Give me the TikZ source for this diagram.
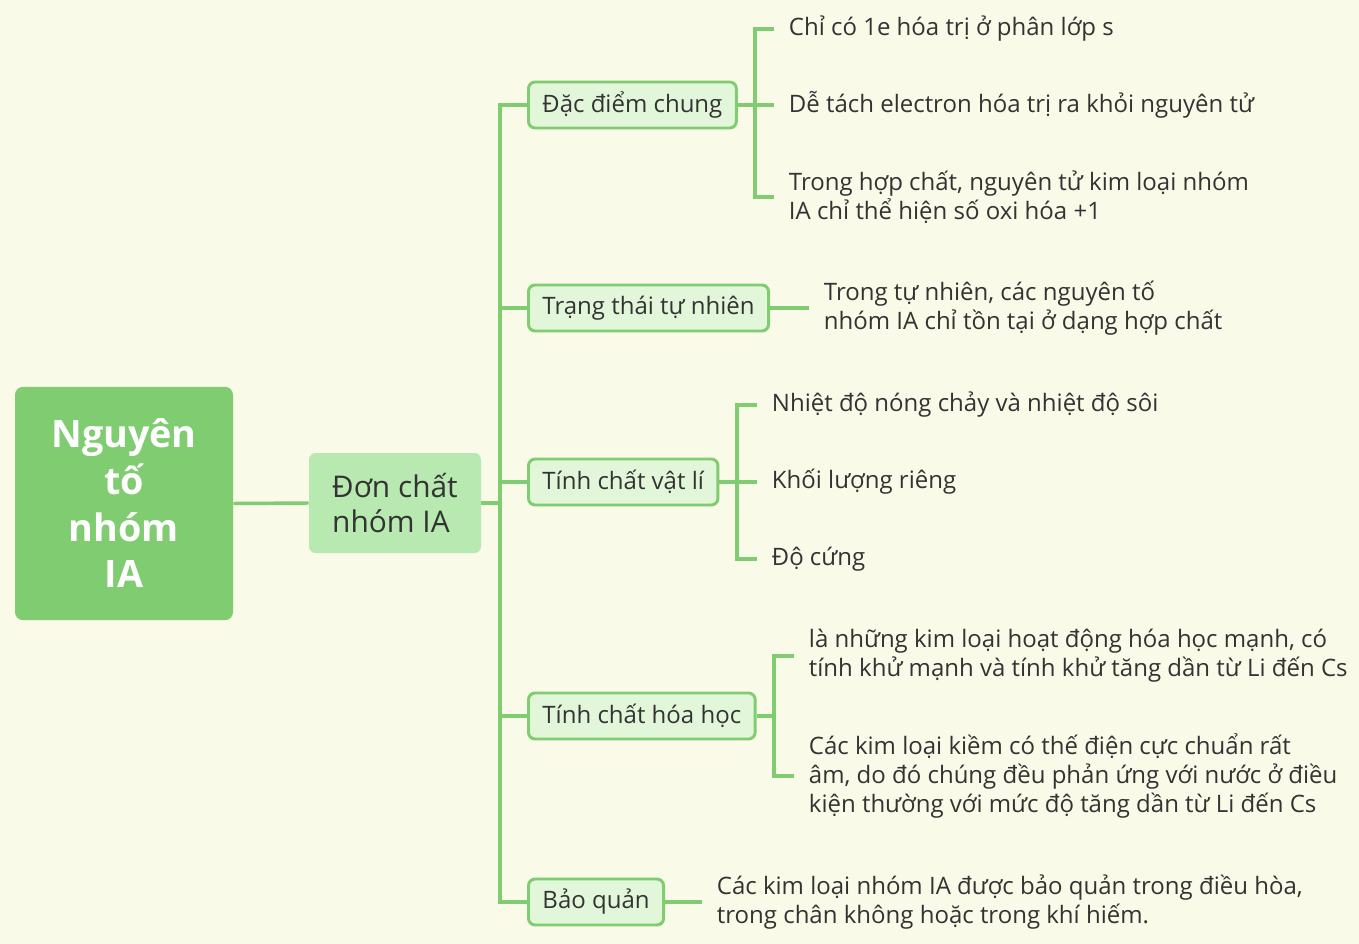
\documentclass[tikz,border=0pt]{standalone}
\usepackage{fontspec}
\setmainfont{Open Sans}
\usetikzlibrary{positioning}
\definecolor{bgc}{HTML}{F9FAE7}
\definecolor{lgreen}{HTML}{80CC71}
\definecolor{midgreen}{HTML}{B8E9B0}
\definecolor{pale}{HTML}{E2F7DA}
\definecolor{ink}{HTML}{333333}
\tikzset{
box/.style={draw=lgreen,line width=2.2pt,fill=pale,rounded corners=5pt,minimum height=34.5pt,
inner xsep=10.5pt,anchor=west,text=ink,font=\fontsize{18}{21.5}\selectfont},
leaf/.style={anchor=west,inner xsep=11pt,inner ysep=0pt,align=left,text=ink,
font=\fontsize{18}{21.5}\selectfont},
br/.style={lgreen,line width=2.6pt},
}
\begin{document}
\begin{tikzpicture}[x=0.75pt,y=-0.75pt]
\fill[bgc](0,0)rectangle(1359,944);
\useasboundingbox(0,0)rectangle(1359,944);
\node[fill=lgreen,rounded corners=6pt,minimum width=163.5pt,minimum height=175pt,align=center,
text=white,font=\fontsize{28.3}{35}\selectfont\bfseries](R)at(124,503.5){Nguyên\\tố\\nhóm\\IA};
\node[fill=midgreen,rounded corners=5pt,minimum width=129pt,minimum height=75pt,align=left,
text=ink,font=\fontsize{22.4}{26.5}\selectfont](S)at(395,503){Đơn chất\\nhóm IA};
\draw[br](R.east)--(S.west);
%% branches
\node[box](B1)at(527,105){Đặc điểm chung};
\node[box](B2)at(527,308){Trạng thái tự nhiên};
\node[box](B3)at(527,482){Tính chất vật lí};
\node[box](B4)at(527,716){Tính chất hóa học};
\node[box](B5)at(527,902){Bảo quản};
\coordinate(T)at(500,503);
\draw[br](S.east)--(T);
\draw[br](B1.west)-|(T)|-(B5.west);
\draw[br](T|-B2)--(B2.west);
\draw[br](T|-B3)--(B3.west);
\draw[br](T|-B4)--(B4.west);
%% leaves
\node[leaf](L11)at(774,29){Chỉ có 1e hóa trị ở phân lớp s};
\node[leaf](L12)at(774,105){Dễ tách electron hóa trị ra khỏi nguyên tử};
\node[leaf](L13)at(774,197){Trong hợp chất, nguyên tử kim loại nhóm\\IA chỉ thể hiện số oxi hóa +1};
\coordinate(J1)at(755,105);
\draw[br](L11.west)-|(J1)|-(L13.west);
\draw[br](B1.east)--(L12.west);
%
\node[leaf](L21)at(809,308){Trong tự nhiên, các nguyên tố\\nhóm IA chỉ tồn tại ở dạng hợp chất};
\draw[br](B2.east)--(L21.west);
%
\node[leaf](L31)at(757,405){Nhiệt độ nóng chảy và nhiệt độ sôi};
\node[leaf](L32)at(757,482){Khối lượng riêng};
\node[leaf](L33)at(757,559){Độ cứng};
\coordinate(J3)at(737,482);
\draw[br](L31.west)-|(J3)|-(L33.west);
\draw[br](B3.east)--(L32.west);
%
\node[leaf](L41)at(794,656){là những kim loại hoạt động hóa học mạnh, có\\tính khử mạnh và tính khử tăng dần từ Li đến Cs};
\node[leaf](L42)at(794,776){Các kim loại kiềm có thế điện cực chuẩn rất\\âm, do đó chúng đều phản ứng với nước ở điều\\kiện thường với mức độ tăng dần từ Li đến Cs};
\coordinate(J4)at(774,716);
\draw[br](L41.west)-|(J4)|-(L42.west);
\draw[br](B4.east)--(J4);
%
\node[leaf](L51)at(702,902){Các kim loại nhóm IA được bảo quản trong điều hòa,\\trong chân không hoặc trong khí hiếm.};
\draw[br](B5.east)--(L51.west);
\end{tikzpicture}
\end{document}
